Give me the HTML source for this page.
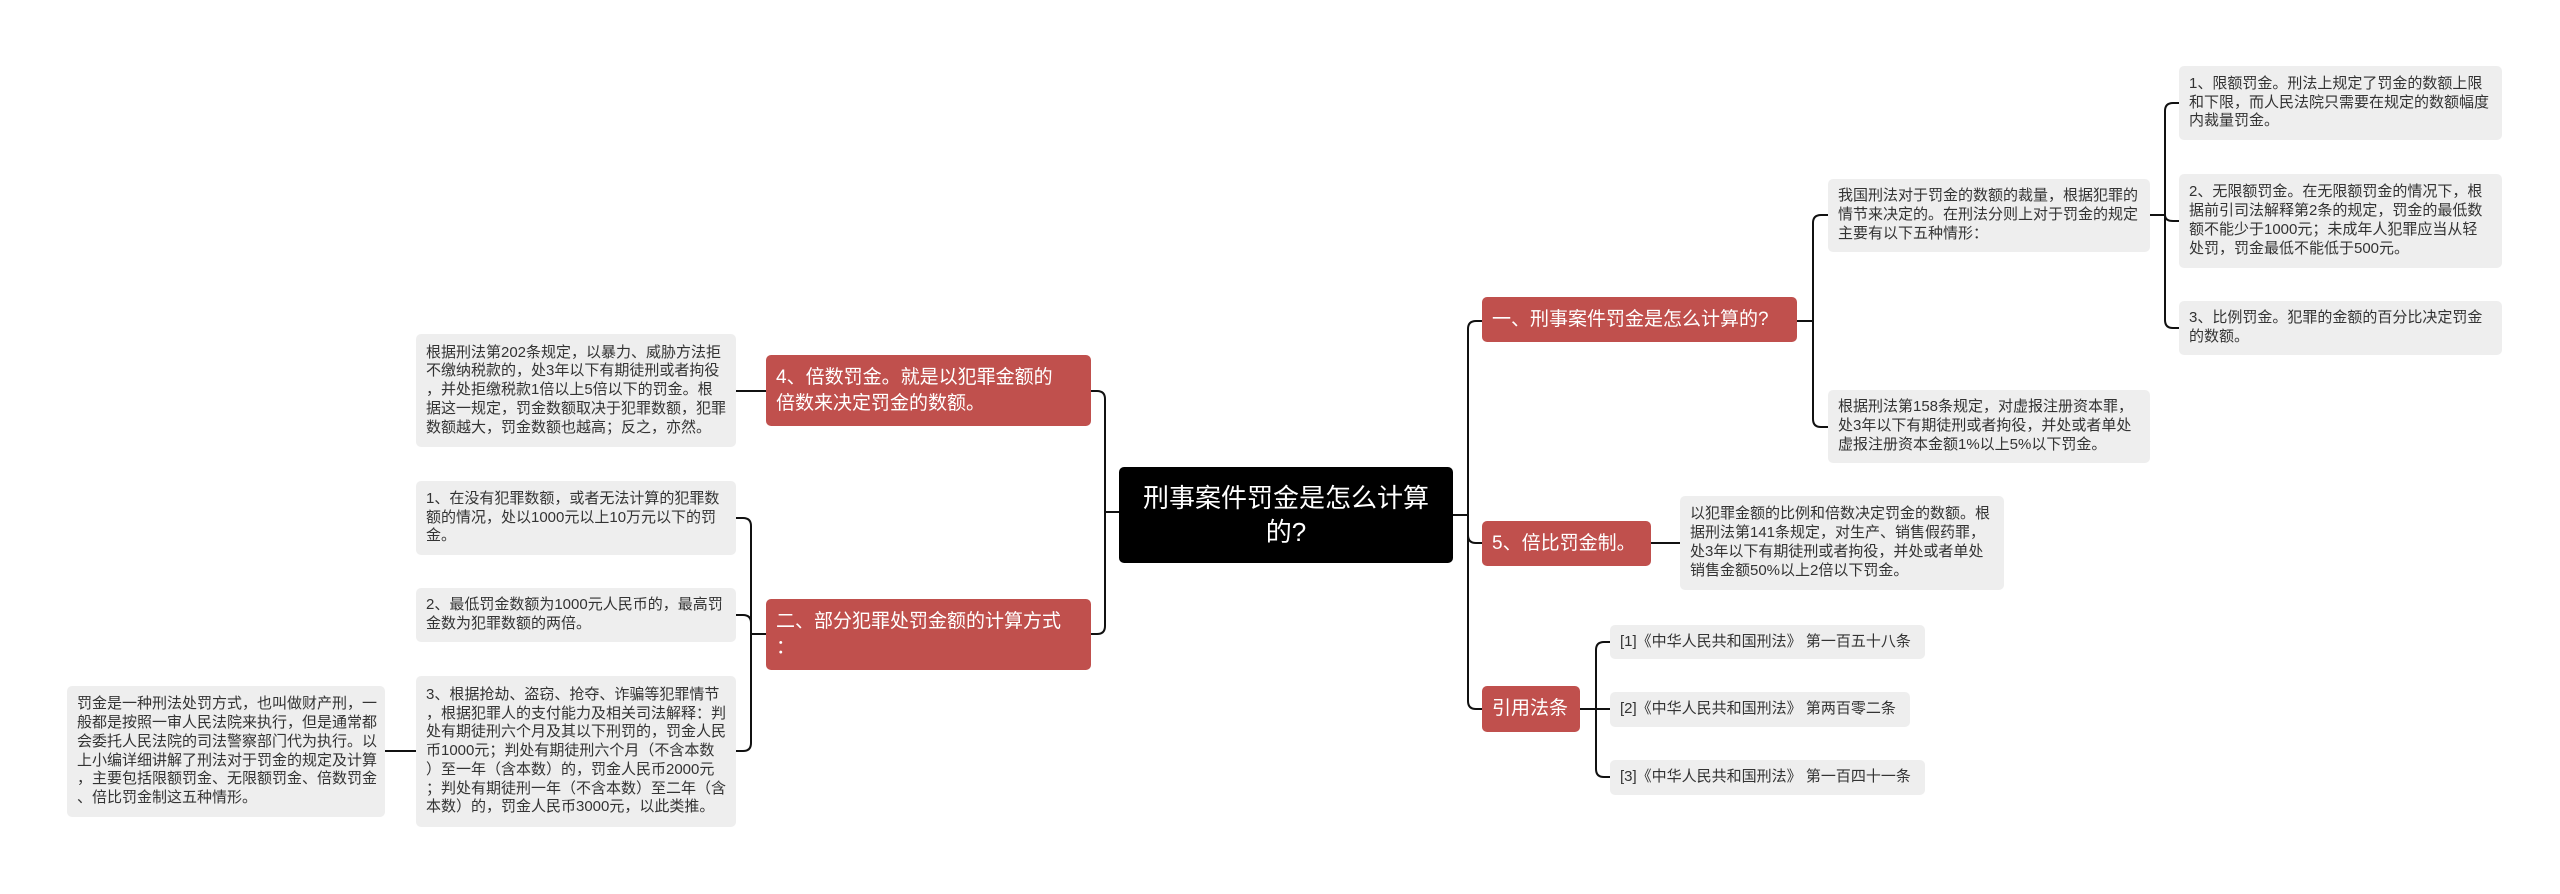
<!DOCTYPE html>
<html><head><meta charset="utf-8"><style>
body{margin:0;width:2560px;height:894px;background:#fff;position:relative;overflow:hidden;font-family:"Liberation Sans","Noto Sans CJK SC",sans-serif;}
.b{position:absolute;box-sizing:border-box;display:flex;align-items:center;border-radius:5px;}
.g{background:#eeeeee;color:#333;font-size:15px;line-height:18.8px;padding:0 10px;white-space:nowrap;}
.r{background:#c0504d;color:#fff;font-size:19px;line-height:26px;padding:0 10px;white-space:nowrap;}
.c{background:#000;color:#fff;font-size:26px;line-height:34px;justify-content:center;text-align:center;}
svg{position:absolute;left:0;top:0;}
</style></head><body>
<svg width="2560" height="894" fill="none" stroke="#111" stroke-width="2">
<path d="M1453 515 H1468 V329 Q1468 321 1476 321 H1482"/>
<path d="M1468 515 V535 Q1468 543 1476 543 H1482"/>
<path d="M1468 515 V701 Q1468 709 1476 709 H1482"/>
<path d="M1119 512 H1105 V399 Q1105 391 1097 391 H1091"/>
<path d="M1105 512 V626 Q1105 634 1097 634 H1091"/>
<path d="M1797 321 H1813 V223 Q1813 215 1821 215 H1828"/>
<path d="M1813 321 V419 Q1813 427 1821 427 H1828"/>
<path d="M2150 215 H2165 V111 Q2165 103 2173 103 H2179"/>
<path d="M2165 215 Q2165 221 2173 221 H2179"/>
<path d="M2165 215 V320 Q2165 328 2173 328 H2179"/>
<path d="M1651 543 H1680"/>
<path d="M1580 709 H1610"/>
<path d="M1596 709 V650 Q1596 642 1604 642 H1610"/>
<path d="M1596 709 V769 Q1596 777 1604 777 H1610"/>
<path d="M766 391 H736"/>
<path d="M766 634 H751 V526 Q751 518 743 518 H736"/>
<path d="M751 634 V623 Q751 615 743 615 H736"/>
<path d="M751 634 V743 Q751 751 743 751 H736"/>
<path d="M416 751 H385"/>
</svg>

<div class="b c" style="left:1119px;top:467px;width:334px;height:96px;">刑事案件罚金是怎么计算<br>的?</div>

<div class="b r" style="left:1482px;top:297px;width:315px;height:45px;">一、刑事案件罚金是怎么计算的?</div>
<div class="b r" style="left:1482px;top:521px;width:169px;height:45px;">5、倍比罚金制。</div>
<div class="b r" style="left:1482px;top:686px;width:98px;height:46px;">引用法条</div>

<div class="b g" style="left:1828px;top:179px;width:322px;height:73px;">我国刑法对于罚金的数额的裁量，根据犯罪的<br>情节来决定的。在刑法分则上对于罚金的规定<br>主要有以下五种情形：</div>
<div class="b g" style="left:1828px;top:390px;width:322px;height:73px;">根据刑法第158条规定，对虚报注册资本罪，<br>处3年以下有期徒刑或者拘役，并处或者单处<br>虚报注册资本金额1%以上5%以下罚金。</div>

<div class="b g" style="left:2179px;top:66px;width:323px;height:74px;">1、限额罚金。刑法上规定了罚金的数额上限<br>和下限，而人民法院只需要在规定的数额幅度<br>内裁量罚金。</div>
<div class="b g" style="left:2179px;top:174px;width:323px;height:94px;">2、无限额罚金。在无限额罚金的情况下，根<br>据前引司法解释第2条的规定，罚金的最低数<br>额不能少于1000元；未成年人犯罪应当从轻<br>处罚，罚金最低不能低于500元。</div>
<div class="b g" style="left:2179px;top:301px;width:323px;height:54px;">3、比例罚金。犯罪的金额的百分比决定罚金<br>的数额。</div>

<div class="b g" style="left:1680px;top:496px;width:324px;height:94px;">以犯罪金额的比例和倍数决定罚金的数额。根<br>据刑法第141条规定，对生产、销售假药罪，<br>处3年以下有期徒刑或者拘役，并处或者单处<br>销售金额50%以上2倍以下罚金。</div>

<div class="b g" style="left:1610px;top:625px;width:315px;height:34px;">[1]《中华人民共和国刑法》 第一百五十八条</div>
<div class="b g" style="left:1610px;top:692px;width:300px;height:35px;">[2]《中华人民共和国刑法》 第两百零二条</div>
<div class="b g" style="left:1610px;top:760px;width:315px;height:35px;">[3]《中华人民共和国刑法》 第一百四十一条</div>

<div class="b r" style="left:766px;top:355px;width:325px;height:71px;">4、倍数罚金。就是以犯罪金额的<br>倍数来决定罚金的数额。</div>
<div class="b r" style="left:766px;top:599px;width:325px;height:71px;">二、部分犯罪处罚金额的计算方式<br>：</div>

<div class="b g" style="left:416px;top:334px;width:320px;height:113px;">根据刑法第202条规定，以暴力、威胁方法拒<br>不缴纳税款的，处3年以下有期徒刑或者拘役<br>，并处拒缴税款1倍以上5倍以下的罚金。根<br>据这一规定，罚金数额取决于犯罪数额，犯罪<br>数额越大，罚金数额也越高；反之，亦然。</div>
<div class="b g" style="left:416px;top:481px;width:320px;height:74px;">1、在没有犯罪数额，或者无法计算的犯罪数<br>额的情况，处以1000元以上10万元以下的罚<br>金。</div>
<div class="b g" style="left:416px;top:588px;width:320px;height:54px;">2、最低罚金数额为1000元人民币的，最高罚<br>金数为犯罪数额的两倍。</div>
<div class="b g" style="left:416px;top:676px;width:320px;height:151px;">3、根据抢劫、盗窃、抢夺、诈骗等犯罪情节<br>，根据犯罪人的支付能力及相关司法解释：判<br>处有期徒刑六个月及其以下刑罚的，罚金人民<br>币1000元；判处有期徒刑六个月（不含本数<br>）至一年（含本数）的，罚金人民币2000元<br>；判处有期徒刑一年（不含本数）至二年（含<br>本数）的，罚金人民币3000元，以此类推。</div>
<div class="b g" style="left:67px;top:686px;width:318px;height:131px;">罚金是一种刑法处罚方式，也叫做财产刑，一<br>般都是按照一审人民法院来执行，但是通常都<br>会委托人民法院的司法警察部门代为执行。以<br>上小编详细讲解了刑法对于罚金的规定及计算<br>，主要包括限额罚金、无限额罚金、倍数罚金<br>、倍比罚金制这五种情形。</div>
</body></html>
